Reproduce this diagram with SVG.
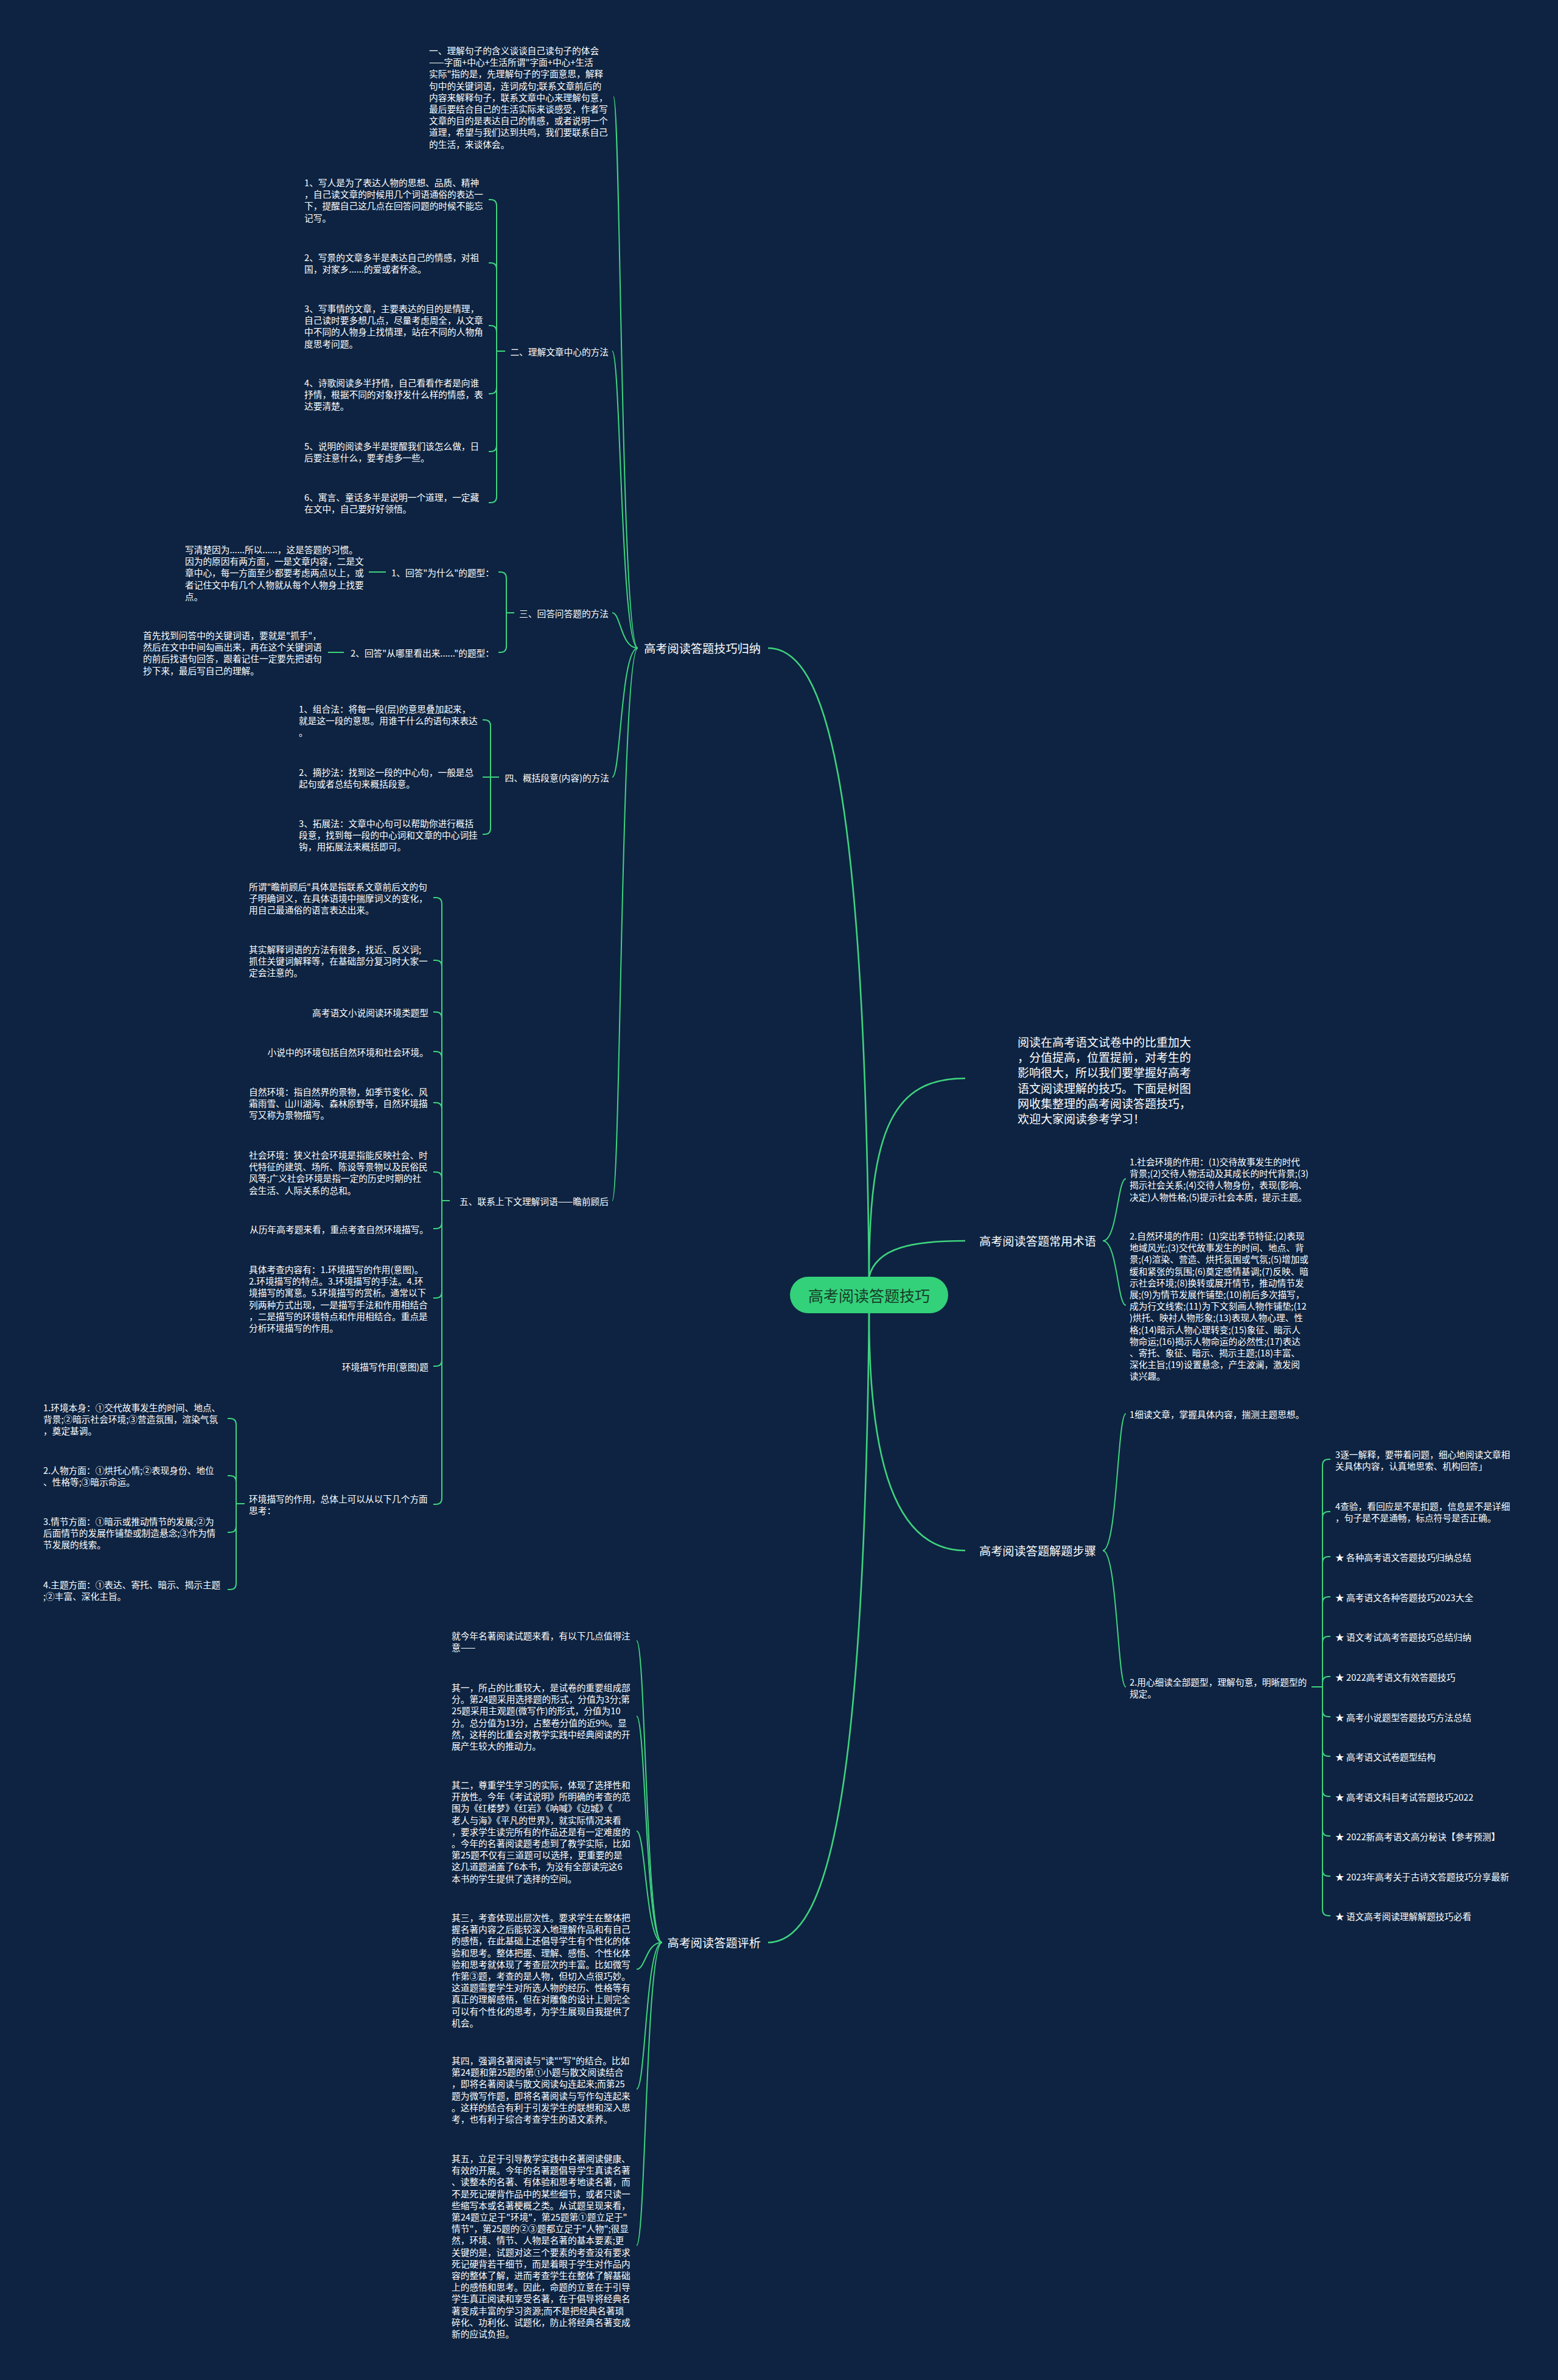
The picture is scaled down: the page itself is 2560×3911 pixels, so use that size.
<svg xmlns="http://www.w3.org/2000/svg" width="2560" height="3911" viewBox="0 0 2560 3911">
<style>
text{font-family:"Noto Sans CJK SC","Noto Sans",sans-serif;fill:#ffffff;dominant-baseline:central}
.t{font-size:14.7px}
.l1{font-size:19.2px}
.in{font-size:19px}
.root{font-size:25px;fill:#173b28}
.c{fill:none;stroke:#3fd37e;stroke-width:2}
.c1{stroke-width:2.6}
.e{text-anchor:end}
</style>
<rect width="2560" height="3911" fill="#0d2341"/>
<g id="connectors">
<path class="c c1" d="M1428 2098C1420 1300 1360 1065 1262 1065"/>
<path class="c c1" d="M1428 2158C1420 2956 1360 3192 1262 3192"/>
<path class="c c1" d="M1428 2098C1428 1850 1470 1772 1586 1772"/>
<path class="c c1" d="M1428 2098C1440 2050 1500 2039 1586 2039"/>
<path class="c c1" d="M1428 2158C1428 2400 1470 2548 1586 2548"/>
<path class="c" d="M1048 1065C1020 1065 1020 159 1008 159"/>
<path class="c" d="M1048 1065C1020 1065 1020 577 1006 577"/>
<path class="c" d="M1048 1065C1020 1065 1020 1007 1006 1007"/>
<path class="c" d="M1048 1065C1020 1065 1020 1277 1006 1277"/>
<path class="c" d="M1048 1065C1020 1065 1020 1973 1006 1973"/>
<path class="c" d="M1088 3192C1061 3192 1061 2696 1046 2696"/>
<path class="c" d="M1088 3192C1061 3192 1061 2820 1046 2820"/>
<path class="c" d="M1088 3192C1061 3192 1061 3009 1046 3009"/>
<path class="c" d="M1088 3192C1061 3192 1061 3236 1046 3236"/>
<path class="c" d="M1088 3192C1061 3192 1061 3433 1046 3433"/>
<path class="c" d="M1088 3192C1061 3192 1061 3690 1046 3690"/>
<path class="c" d="M1812 2039C1836 2039 1836 1937 1850 1937"/>
<path class="c" d="M1812 2039C1836 2039 1836 2145 1850 2145"/>
<path class="c" d="M1812 2548C1836 2548 1836 2323 1850 2323"/>
<path class="c" d="M1812 2548C1836 2548 1836 2772 1850 2772"/>
<path class="c" d="M830 577H816V338Q816 328 806 328H803"/>
<path class="c" d="M830 577H816V442Q816 432 806 432H803"/>
<path class="c" d="M830 577H816V545Q816 535 806 535H803"/>
<path class="c" d="M830 577H816V637Q816 647 806 647H803"/>
<path class="c" d="M830 577H816V732Q816 742 806 742H803"/>
<path class="c" d="M830 577H816V816Q816 826 806 826H803"/>
<path class="c" d="M845 1007H832V950Q832 940 822 940H819"/>
<path class="c" d="M845 1007H832V1062Q832 1072 822 1072H819"/>
<path class="c" d="M634 940H606"/>
<path class="c" d="M565 1072H539"/>
<path class="c" d="M820 1277H806V1193Q806 1183 796 1183H793"/>
<path class="c" d="M820 1277H793"/>
<path class="c" d="M820 1277H806V1361Q806 1371 796 1371H793"/>
<path class="c" d="M739 1973H726V1485Q726 1475 716 1475H712"/>
<path class="c" d="M739 1973H726V1588Q726 1578 716 1578H712"/>
<path class="c" d="M739 1973H726V1673Q726 1663 716 1663H712"/>
<path class="c" d="M739 1973H726V1738Q726 1728 716 1728H712"/>
<path class="c" d="M739 1973H726V1822Q726 1812 716 1812H712"/>
<path class="c" d="M739 1973H726V1936Q726 1926 716 1926H712"/>
<path class="c" d="M739 1973H726V2009Q726 2019 716 2019H712"/>
<path class="c" d="M739 1973H726V2123Q726 2133 716 2133H712"/>
<path class="c" d="M739 1973H726V2235Q726 2245 716 2245H712"/>
<path class="c" d="M739 1973H726V2462Q726 2472 716 2472H712"/>
<path class="c" d="M402 2471H388V2341Q388 2331 378 2331H374"/>
<path class="c" d="M402 2471H388V2435Q388 2425 378 2425H374"/>
<path class="c" d="M402 2471H388V2508Q388 2518 378 2518H374"/>
<path class="c" d="M402 2471H388V2602Q388 2612 378 2612H374"/>
<path class="c" d="M2155 2772H2173V2408Q2173 2398 2183 2398H2186"/>
<path class="c" d="M2155 2772H2173V2494Q2173 2484 2183 2484H2186"/>
<path class="c" d="M2155 2772H2173V2568Q2173 2558 2183 2558H2186"/>
<path class="c" d="M2155 2772H2173V2634Q2173 2624 2183 2624H2186"/>
<path class="c" d="M2155 2772H2173V2699Q2173 2689 2183 2689H2186"/>
<path class="c" d="M2155 2772H2173V2765Q2173 2755 2183 2755H2186"/>
<path class="c" d="M2155 2772H2173V2811Q2173 2821 2183 2821H2186"/>
<path class="c" d="M2155 2772H2173V2876Q2173 2886 2183 2886H2186"/>
<path class="c" d="M2155 2772H2173V2942Q2173 2952 2183 2952H2186"/>
<path class="c" d="M2155 2772H2173V3007Q2173 3017 2183 3017H2186"/>
<path class="c" d="M2155 2772H2173V3073Q2173 3083 2183 3083H2186"/>
<path class="c" d="M2155 2772H2173V3138Q2173 3148 2183 3148H2186"/>
</g>
<g id="root"><rect x="1298" y="2098" width="260" height="60" rx="30" fill="#33d17a"/><text class="root" x="1428" y="2128" text-anchor="middle">高考阅读答题技巧</text></g>
<g id="intro"><text class="in"><tspan x="1672" y="1711">阅读在高考语文试卷中的比重加大</tspan><tspan x="1672" y="1736.2">，分值提高，位置提前，对考生的</tspan><tspan x="1672" y="1761.4">影响很大，所以我们要掌握好高考</tspan><tspan x="1672" y="1786.6">语文阅读理解的技巧。下面是树图</tspan><tspan x="1672" y="1811.8">网收集整理的高考阅读答题技巧，</tspan><tspan x="1672" y="1837">欢迎大家阅读参考学习！</tspan></text></g>
<g id="nA"><text class="l1 e" x="1250" y="1065">高考阅读答题技巧归纳</text></g>
<g id="nB"><text class="l1 e" x="1250" y="3192">高考阅读答题评析</text></g>
<g id="nD"><text class="l1" x="1609" y="2039">高考阅读答题常用术语</text></g>
<g id="nE"><text class="l1" x="1609" y="2548">高考阅读答题解题步骤</text></g>
<g id="a1"><text class="t"><tspan x="705" y="82">一、理解句子的含义谈谈自己读句子的体会</tspan><tspan x="705" y="101.2">——字面+中心+生活所谓"字面+中心+生活</tspan><tspan x="705" y="120.4">实际"指的是，先理解句子的字面意思，解释</tspan><tspan x="705" y="139.6">句中的关键词语，连词成句;联系文章前后的</tspan><tspan x="705" y="158.8">内容来解释句子，联系文章中心来理解句意，</tspan><tspan x="705" y="178">最后要结合自己的生活实际来谈感受，作者写</tspan><tspan x="705" y="197.2">文章的目的是表达自己的情感，或者说明一个</tspan><tspan x="705" y="216.4">道理，希望与我们达到共鸣，我们要联系自己</tspan><tspan x="705" y="235.6">的生活，来谈体会。</tspan></text></g>
<g id="a2"><text class="t e" x="1000" y="577">二、理解文章中心的方法</text></g>
<g id="a2-1"><text class="t"><tspan x="500" y="299">1、写人是为了表达人物的思想、品质、精神</tspan><tspan x="500" y="318.2">，自己读文章的时候用几个词语通俗的表达一</tspan><tspan x="500" y="337.4">下，提醒自己这几点在回答问题的时候不能忘</tspan><tspan x="500" y="356.6">记写。</tspan></text></g>
<g id="a2-2"><text class="t"><tspan x="500" y="422">2、写景的文章多半是表达自己的情感，对祖</tspan><tspan x="500" y="441.2">国，对家乡......的爱或者怀念。</tspan></text></g>
<g id="a2-3"><text class="t"><tspan x="500" y="506">3、写事情的文章，主要表达的目的是情理，</tspan><tspan x="500" y="525.2">自己读时要多想几点，尽量考虑周全，从文章</tspan><tspan x="500" y="544.4">中不同的人物身上找情理，站在不同的人物角</tspan><tspan x="500" y="563.6">度思考问题。</tspan></text></g>
<g id="a2-4"><text class="t"><tspan x="500" y="628">4、诗歌阅读多半抒情，自己看看作者是向谁</tspan><tspan x="500" y="647.2">抒情，根据不同的对象抒发什么样的情感，表</tspan><tspan x="500" y="666.4">达要清楚。</tspan></text></g>
<g id="a2-5"><text class="t"><tspan x="500" y="732">5、说明的阅读多半是提醒我们该怎么做，日</tspan><tspan x="500" y="751.2">后要注意什么，要考虑多一些。</tspan></text></g>
<g id="a2-6"><text class="t"><tspan x="500" y="816">6、寓言、童话多半是说明一个道理，一定藏</tspan><tspan x="500" y="835.2">在文中，自己要好好领悟。</tspan></text></g>
<g id="a3"><text class="t e" x="1000" y="1007">三、回答问答题的方法</text></g>
<g id="a3-1"><text class="t e" x="812" y="940">1、回答"为什么"的题型：</text></g>
<g id="a3-1a"><text class="t"><tspan x="304" y="902">写清楚因为......所以......，这是答题的习惯。</tspan><tspan x="304" y="921.2">因为的原因有两方面，一是文章内容，二是文</tspan><tspan x="304" y="940.4">章中心，每一方面至少都要考虑两点以上，或</tspan><tspan x="304" y="959.6">者记住文中有几个人物就从每个人物身上找要</tspan><tspan x="304" y="978.8">点。</tspan></text></g>
<g id="a3-2"><text class="t e" x="812" y="1072">2、回答"从哪里看出来......"的题型：</text></g>
<g id="a3-2a"><text class="t"><tspan x="235" y="1043">首先找到问答中的关键词语，要就是"抓手"，</tspan><tspan x="235" y="1062.2">然后在文中中间勾画出来，再在这个关键词语</tspan><tspan x="235" y="1081.4">的前后找语句回答，跟着记住一定要先把语句</tspan><tspan x="235" y="1100.6">抄下来，最后写自己的理解。</tspan></text></g>
<g id="a4"><text class="t e" x="1001" y="1277">四、概括段意(内容)的方法</text></g>
<g id="a4-1"><text class="t"><tspan x="491" y="1164">1、组合法：将每一段(层)的意思叠加起来，</tspan><tspan x="491" y="1183.2">就是这一段的意思。用谁干什么的语句来表达</tspan><tspan x="491" y="1202.4">。</tspan></text></g>
<g id="a4-2"><text class="t"><tspan x="491" y="1268">2、摘抄法：找到这一段的中心句，一般是总</tspan><tspan x="491" y="1287.2">起句或者总结句来概括段意。</tspan></text></g>
<g id="a4-3"><text class="t"><tspan x="491" y="1352">3、拓展法：文章中心句可以帮助你进行概括</tspan><tspan x="491" y="1371.2">段意，找到每一段的中心词和文章的中心词挂</tspan><tspan x="491" y="1390.4">钩，用拓展法来概括即可。</tspan></text></g>
<g id="a5"><text class="t e" x="1000" y="1973">五、联系上下文理解词语——瞻前顾后</text></g>
<g id="a5-1"><text class="t"><tspan x="409" y="1456">所谓"瞻前顾后"具体是指联系文章前后文的句</tspan><tspan x="409" y="1475.2">子明确词义，在具体语境中揣摩词义的变化，</tspan><tspan x="409" y="1494.4">用自己最通俗的语言表达出来。</tspan></text></g>
<g id="a5-2"><text class="t"><tspan x="409" y="1559">其实解释词语的方法有很多，找近、反义词;</tspan><tspan x="409" y="1578.2">抓住关键词解释等，在基础部分复习时大家一</tspan><tspan x="409" y="1597.4">定会注意的。</tspan></text></g>
<g id="a5-3"><text class="t e" x="704" y="1663">高考语文小说阅读环境类题型</text></g>
<g id="a5-4"><text class="t e" x="704" y="1728">小说中的环境包括自然环境和社会环境。</text></g>
<g id="a5-5"><text class="t"><tspan x="409" y="1793">自然环境：指自然界的景物，如季节变化、风</tspan><tspan x="409" y="1812.2">霜雨雪、山川湖海、森林原野等，自然环境描</tspan><tspan x="409" y="1831.4">写又称为景物描写。</tspan></text></g>
<g id="a5-6"><text class="t"><tspan x="409" y="1897">社会环境：狭义社会环境是指能反映社会、时</tspan><tspan x="409" y="1916.2">代特征的建筑、场所、陈设等景物以及民俗民</tspan><tspan x="409" y="1935.4">风等;广义社会环境是指一定的历史时期的社</tspan><tspan x="409" y="1954.6">会生活、人际关系的总和。</tspan></text></g>
<g id="a5-7"><text class="t e" x="704" y="2019">从历年高考题来看，重点考查自然环境描写。</text></g>
<g id="a5-8"><text class="t"><tspan x="409" y="2085">具体考查内容有：1.环境描写的作用(意图)。</tspan><tspan x="409" y="2104.2">2.环境描写的特点。3.环境描写的手法。4.环</tspan><tspan x="409" y="2123.4">境描写的寓意。5.环境描写的赏析。通常以下</tspan><tspan x="409" y="2142.6">列两种方式出现，一是描写手法和作用相结合</tspan><tspan x="409" y="2161.8">，二是描写的环境特点和作用相结合。重点是</tspan><tspan x="409" y="2181">分析环境描写的作用。</tspan></text></g>
<g id="a5-9"><text class="t e" x="704" y="2245">环境描写作用(意图)题</text></g>
<g id="a5-10"><text class="t"><tspan x="409" y="2462">环境描写的作用，总体上可以从以下几个方面</tspan><tspan x="409" y="2481.2">思考：</tspan></text></g>
<g id="a5-10-1"><text class="t"><tspan x="71" y="2312">1.环境本身：①交代故事发生的时间、地点、</tspan><tspan x="71" y="2331.2">背景;②暗示社会环境;③营造氛围，渲染气氛</tspan><tspan x="71" y="2350.4">，奠定基调。</tspan></text></g>
<g id="a5-10-2"><text class="t"><tspan x="71" y="2415">2.人物方面：①烘托心情;②表现身份、地位</tspan><tspan x="71" y="2434.2">、性格等;③暗示命运。</tspan></text></g>
<g id="a5-10-3"><text class="t"><tspan x="71" y="2499">3.情节方面：①暗示或推动情节的发展;②为</tspan><tspan x="71" y="2518.2">后面情节的发展作铺垫或制造悬念;③作为情</tspan><tspan x="71" y="2537.4">节发展的线索。</tspan></text></g>
<g id="a5-10-4"><text class="t"><tspan x="71" y="2603">4.主题方面：①表达、寄托、暗示、揭示主题</tspan><tspan x="71" y="2622.2">;②丰富、深化主旨。</tspan></text></g>
<g id="b0"><text class="t"><tspan x="742" y="2687">就今年名著阅读试题来看，有以下几点值得注</tspan><tspan x="742" y="2706.2">意——</tspan></text></g>
<g id="b1"><text class="t"><tspan x="742" y="2772">其一，所占的比重较大，是试卷的重要组成部</tspan><tspan x="742" y="2791.2">分。第24题采用选择题的形式，分值为3分;第</tspan><tspan x="742" y="2810.4">25题采用主观题(微写作)的形式，分值为10</tspan><tspan x="742" y="2829.6">分。总分值为13分，占整卷分值的近9%。显</tspan><tspan x="742" y="2848.8">然，这样的比重会对教学实践中经典阅读的开</tspan><tspan x="742" y="2868">展产生较大的推动力。</tspan></text></g>
<g id="b2"><text class="t"><tspan x="742" y="2932">其二，尊重学生学习的实际，体现了选择性和</tspan><tspan x="742" y="2951.2">开放性。今年《考试说明》所明确的考查的范</tspan><tspan x="742" y="2970.4">围为《红楼梦》《红岩》《呐喊》《边城》《</tspan><tspan x="742" y="2989.6">老人与海》《平凡的世界》，就实际情况来看</tspan><tspan x="742" y="3008.8">，要求学生读完所有的作品还是有一定难度的</tspan><tspan x="742" y="3028">。今年的名著阅读题考虑到了教学实际，比如</tspan><tspan x="742" y="3047.2">第25题不仅有三道题可以选择，更重要的是</tspan><tspan x="742" y="3066.4">这几道题涵盖了6本书，为没有全部读完这6</tspan><tspan x="742" y="3085.6">本书的学生提供了选择的空间。</tspan></text></g>
<g id="b3"><text class="t"><tspan x="742" y="3150">其三，考查体现出层次性。要求学生在整体把</tspan><tspan x="742" y="3169.2">握名著内容之后能较深入地理解作品和有自己</tspan><tspan x="742" y="3188.4">的感悟，在此基础上还倡导学生有个性化的体</tspan><tspan x="742" y="3207.6">验和思考。整体把握、理解、感悟、个性化体</tspan><tspan x="742" y="3226.8">验和思考就体现了考查层次的丰富。比如微写</tspan><tspan x="742" y="3246">作第③题，考查的是人物，但切入点很巧妙。</tspan><tspan x="742" y="3265.2">这道题需要学生对所选人物的经历、性格等有</tspan><tspan x="742" y="3284.4">真正的理解感悟，但在对雕像的设计上则完全</tspan><tspan x="742" y="3303.6">可以有个性化的思考，为学生展现自我提供了</tspan><tspan x="742" y="3322.8">机会。</tspan></text></g>
<g id="b4"><text class="t"><tspan x="742" y="3385">其四，强调名著阅读与"读""写"的结合。比如</tspan><tspan x="742" y="3404.2">第24题和第25题的第①小题与散文阅读结合</tspan><tspan x="742" y="3423.4">，即将名著阅读与散文阅读勾连起来;而第25</tspan><tspan x="742" y="3442.6">题为微写作题，即将名著阅读与写作勾连起来</tspan><tspan x="742" y="3461.8">。这样的结合有利于引发学生的联想和深入思</tspan><tspan x="742" y="3481">考，也有利于综合考查学生的语文素养。</tspan></text></g>
<g id="b5"><text class="t"><tspan x="742" y="3546">其五，立足于引导教学实践中名著阅读健康、</tspan><tspan x="742" y="3565.2">有效的开展。今年的名著题倡导学生真读名著</tspan><tspan x="742" y="3584.4">、读整本的名著、有体验和思考地读名著，而</tspan><tspan x="742" y="3603.6">不是死记硬背作品中的某些细节，或者只读一</tspan><tspan x="742" y="3622.8">些缩写本或名著梗概之类。从试题呈现来看，</tspan><tspan x="742" y="3642">第24题立足于"环境"，第25题第①题立足于"</tspan><tspan x="742" y="3661.2">情节"，第25题的②③题都立足于"人物";很显</tspan><tspan x="742" y="3680.4">然，环境、情节、人物是名著的基本要素;更</tspan><tspan x="742" y="3699.6">关键的是，试题对这三个要素的考查没有要求</tspan><tspan x="742" y="3718.8">死记硬背若干细节，而是着眼于学生对作品内</tspan><tspan x="742" y="3738">容的整体了解，进而考查学生在整体了解基础</tspan><tspan x="742" y="3757.2">上的感悟和思考。因此，命题的立意在于引导</tspan><tspan x="742" y="3776.4">学生真正阅读和享受名著，在于倡导将经典名</tspan><tspan x="742" y="3795.6">著变成丰富的学习资源;而不是把经典名著琐</tspan><tspan x="742" y="3814.8">碎化、功利化、试题化，防止将经典名著变成</tspan><tspan x="742" y="3834">新的应试负担。</tspan></text></g>
<g id="d1"><text class="t"><tspan x="1856" y="1908">1.社会环境的作用：(1)交待故事发生的时代</tspan><tspan x="1856" y="1927.2">背景;(2)交待人物活动及其成长的时代背景;(3)</tspan><tspan x="1856" y="1946.4">揭示社会关系;(4)交待人物身份，表现(影响、</tspan><tspan x="1856" y="1965.6">决定)人物性格;(5)提示社会本质，提示主题。</tspan></text></g>
<g id="d2"><text class="t"><tspan x="1856" y="2030">2.自然环境的作用：(1)突出季节特征;(2)表现</tspan><tspan x="1856" y="2049.2">地域风光;(3)交代故事发生的时间、地点、背</tspan><tspan x="1856" y="2068.4">景;(4)渲染、营造、烘托氛围或气氛;(5)增加或</tspan><tspan x="1856" y="2087.6">缓和紧张的氛围;(6)奠定感情基调;(7)反映、暗</tspan><tspan x="1856" y="2106.8">示社会环境;(8)换转或展开情节，推动情节发</tspan><tspan x="1856" y="2126">展;(9)为情节发展作铺垫;(10)前后多次描写，</tspan><tspan x="1856" y="2145.2">成为行文线索;(11)为下文刻画人物作铺垫;(12</tspan><tspan x="1856" y="2164.4">)烘托、映衬人物形象;(13)表现人物心理、性</tspan><tspan x="1856" y="2183.6">格;(14)暗示人物心理转变;(15)象征、暗示人</tspan><tspan x="1856" y="2202.8">物命运;(16)揭示人物命运的必然性;(17)表达</tspan><tspan x="1856" y="2222">、寄托、象征、暗示、揭示主题;(18)丰富、</tspan><tspan x="1856" y="2241.2">深化主旨;(19)设置悬念，产生波澜，激发阅</tspan><tspan x="1856" y="2260.4">读兴趣。</tspan></text></g>
<g id="e1"><text class="t" x="1856" y="2323">1细读文章，掌握具体内容，揣测主题思想。</text></g>
<g id="e2"><text class="t"><tspan x="1856" y="2763">2.用心细读全部题型，理解句意，明晰题型的</tspan><tspan x="1856" y="2782.2">规定。</tspan></text></g>
<g id="e2-1"><text class="t"><tspan x="2194" y="2389">3逐一解释，要带着问题，细心地阅读文章相</tspan><tspan x="2194" y="2408.2">关具体内容，认真地思索、机构回答」</tspan></text></g>
<g id="e2-2"><text class="t"><tspan x="2194" y="2474">4查验，看回应是不是扣题，信息是不是详细</tspan><tspan x="2194" y="2493.2">，句子是不是通畅，标点符号是否正确。</tspan></text></g>
<g id="e2-3"><text class="t" x="2194" y="2558">★ 各种高考语文答题技巧归纳总结</text></g>
<g id="e2-4"><text class="t" x="2194" y="2624">★ 高考语文各种答题技巧2023大全</text></g>
<g id="e2-5"><text class="t" x="2194" y="2689">★ 语文考试高考答题技巧总结归纳</text></g>
<g id="e2-6"><text class="t" x="2194" y="2755">★ 2022高考语文有效答题技巧</text></g>
<g id="e2-7"><text class="t" x="2194" y="2821">★ 高考小说题型答题技巧方法总结</text></g>
<g id="e2-8"><text class="t" x="2194" y="2886">★ 高考语文试卷题型结构</text></g>
<g id="e2-9"><text class="t" x="2194" y="2952">★ 高考语文科目考试答题技巧2022</text></g>
<g id="e2-10"><text class="t" x="2194" y="3017">★ 2022新高考语文高分秘诀【参考预测】</text></g>
<g id="e2-11"><text class="t" x="2194" y="3083">★ 2023年高考关于古诗文答题技巧分享最新</text></g>
<g id="e2-12"><text class="t" x="2194" y="3148">★ 语文高考阅读理解解题技巧必看</text></g>
</svg>
